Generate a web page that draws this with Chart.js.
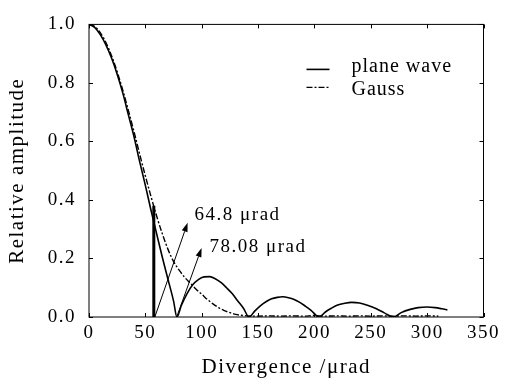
<!DOCTYPE html>
<html>
<head>
<meta charset="utf-8">
<script src="https://cdn.jsdelivr.net/npm/chart.js@4.4.0/dist/chart.umd.min.js"></script>
<style>
html,body{margin:0;padding:0;background:#fff;}
#c{display:block;}
</style>
</head>
<body>
<canvas id="c" width="505" height="380"></canvas>
<script>
// ---- data ----
const planeX = [0,5,10,15,20,25,30,35,40,45,50,55,60,65,70,75,78,82,87,92,97,102,107,112,117,122,127,132,137,142,147,152,157,162,167,172,177,182,187,192,197,204,210,215,220,227,233,240,247,255,262,270,277,285,292,300,307,313,318];
const planeY = [1.0,0.99,0.965,0.93,0.885,0.83,0.765,0.69,0.615,0.53,0.45,0.365,0.285,0.205,0.13,0.055,0.0,0.04,0.08,0.11,0.128,0.137,0.138,0.131,0.118,0.1,0.08,0.055,0.03,0.0,0.02,0.038,0.052,0.062,0.067,0.069,0.066,0.06,0.05,0.037,0.023,0.0,0.018,0.03,0.04,0.047,0.05,0.048,0.04,0.028,0.014,0.0,0.015,0.026,0.032,0.034,0.032,0.028,0.024];
const gaussX = [0,5,10,15,20,25,30,35,40,45,50,55,60,65,70,75,80,85,90,95,100,105,110,115,120,125,130,135,140,150,160,170,180,190,200,210,220,230,240,250,260,270,280,290,300,310];
const gaussY = [1.0,0.993,0.972,0.938,0.893,0.838,0.775,0.705,0.632,0.556,0.482,0.412,0.345,0.285,0.232,0.19,0.16,0.135,0.115,0.095,0.078,0.06,0.045,0.032,0.022,0.015,0.009,0.006,0.004,0.003,0.004,0.003,0.004,0.003,0.005,0.003,0.004,0.003,0.004,0.003,0.004,0.003,0.004,0.003,0.004,0.003];
const markerX = [57.5, 57.5];
const markerY = [0, 0.38];
const arrowTailX = [58.4, 77.8];
const arrowTailY = [0, 0];
const arrowHeadX = [87.5, 99.9];
const arrowHeadY = [0.322, 0.236];
const noteText = ['64.8 \u03bcrad', '78.08 \u03bcrad'];
const noteX = [93.7, 107];
const noteY = [0.332, 0.223];
const seriesNames = ['plane wave', 'Gauss'];
const xTicks = [0,50,100,150,200,250,300,350];
const yTicks = [0,0.2,0.4,0.6,0.8,1.0];

const FONT = 'Liberation Serif';
const toPts = (xs, ys) => xs.map((x, i) => ({x: x, y: ys[i]}));

const spacing = {
  id: 'spacing',
  beforeLayout(chart){ chart.ctx.letterSpacing = '1.5px'; },
  beforeDraw(chart){ chart.ctx.letterSpacing = '1.5px'; }
};

const decor = {
  id: 'decor',
  afterDatasetsDraw(chart){
    const {ctx, chartArea: a, scales: {x, y}} = chart;
    ctx.save();
    ctx.strokeStyle = '#000';
    ctx.lineWidth = 1;
    // frame
    ctx.strokeRect(a.left, a.top, a.right - a.left, a.bottom - a.top);
    // inward ticks
    const tl = 4;
    ctx.beginPath();
    xTicks.forEach(v => {
      const px = Math.round(x.getPixelForValue(v)) + 0.5;
      ctx.moveTo(px, a.bottom); ctx.lineTo(px, a.bottom - tl);
      ctx.moveTo(px, a.top); ctx.lineTo(px, a.top + tl);
    });
    yTicks.forEach(v => {
      const py = Math.round(y.getPixelForValue(v)) + 0.5;
      ctx.moveTo(a.left, py); ctx.lineTo(a.left + tl, py);
      ctx.moveTo(a.right, py); ctx.lineTo(a.right - tl, py);
    });
    ctx.stroke();
    // arrows
    ctx.fillStyle = '#000';
    ctx.lineWidth = 1;
    arrowTailX.forEach((_, i) => {
      const x0 = x.getPixelForValue(arrowTailX[i]), y0 = y.getPixelForValue(arrowTailY[i]);
      const x1 = x.getPixelForValue(arrowHeadX[i]), y1 = y.getPixelForValue(arrowHeadY[i]);
      const ang = Math.atan2(y1 - y0, x1 - x0);
      const hl = 9, hw = 3;
      const bx = x1 - hl * Math.cos(ang), by = y1 - hl * Math.sin(ang);
      ctx.beginPath(); ctx.moveTo(x0, y0); ctx.lineTo(bx, by); ctx.stroke();
      ctx.beginPath();
      ctx.moveTo(x1, y1);
      ctx.lineTo(bx + hw * Math.sin(ang), by - hw * Math.cos(ang));
      ctx.lineTo(bx - hw * Math.sin(ang), by + hw * Math.cos(ang));
      ctx.closePath(); ctx.fill();
    });
    // notes
    ctx.letterSpacing = '1.5px';
    ctx.font = '19px "' + FONT + '"';
    ctx.textAlign = 'left';
    ctx.textBaseline = 'alphabetic';
    noteText.forEach((t, i) => {
      ctx.fillText(t, x.getPixelForValue(noteX[i]), y.getPixelForValue(noteY[i]));
    });
    // legend
    const ds = chart.data.datasets;
    const lx0 = a.right - 177, lx1 = a.right - 154, tx = a.right - 132;
    ctx.letterSpacing = '1px';
    [0, 1].forEach(i => {
      const ly = a.top + 45 + i * 18;
      ctx.save();
      ctx.strokeStyle = ds[i].borderColor;
      ctx.lineWidth = ds[i].borderWidth;
      ctx.setLineDash(ds[i].borderDash || []);
      ctx.beginPath(); ctx.moveTo(lx0, ly); ctx.lineTo(lx1, ly); ctx.stroke();
      ctx.restore();
      ctx.font = '20px "' + FONT + '"';
      ctx.fillText(ds[i].label, tx, ly + 3 + i * 5);
    });
    ctx.restore();
  }
};

new Chart(document.getElementById('c'), {
  type: 'line',
  data: {
    datasets: [
      {label: seriesNames[0], data: toPts(planeX, planeY), borderColor: '#000', borderWidth: 1.6, pointRadius: 0, cubicInterpolationMode: 'monotone', fill: false},
      {label: seriesNames[1], data: toPts(gaussX, gaussY), borderColor: '#000', borderWidth: 1.4, borderDash: [6, 2, 2, 2], pointRadius: 0, cubicInterpolationMode: 'monotone', fill: false},
      {label: 'marker', data: toPts(markerX, markerY), borderColor: '#000', borderWidth: 3, pointRadius: 0, fill: false}
    ]
  },
  options: {
    responsive: false,
    animation: false,
    layout: {padding: {top: 16, right: 20, left: 0, bottom: 0}},
    plugins: {legend: {display: false}, tooltip: {enabled: false}},
    scales: {
      x: {
        type: 'linear', min: 0, max: 350,
        afterBuildTicks: s => { s.ticks = xTicks.map(v => ({value: v})); },
        ticks: {color: '#000', font: {family: FONT, size: 19}, padding: 5, maxRotation: 0, autoSkip: false},
        grid: {display: false, drawTicks: false},
        border: {display: false},
        title: {display: true, text: 'Divergence /\u03bcrad', color: '#000', font: {family: FONT, size: 21}, padding: {top: 0, bottom: 0}},
        afterFit: s => { s.height = 63; }
      },
      y: {
        type: 'linear', min: 0, max: 1.0,
        afterBuildTicks: s => { s.ticks = yTicks.map(v => ({value: v})); },
        ticks: {color: '#000', font: {family: FONT, size: 19}, padding: 13, callback: v => v.toFixed(1)},
        grid: {display: false, drawTicks: false},
        border: {display: false},
        title: {display: true, text: 'Relative amplitude', color: '#000', font: {family: FONT, size: 21}, padding: {top: 5, bottom: 0}},
        afterFit: s => { s.width = 89; }
      }
    }
  },
  plugins: [spacing, decor]
});
</script>
</body>
</html>
